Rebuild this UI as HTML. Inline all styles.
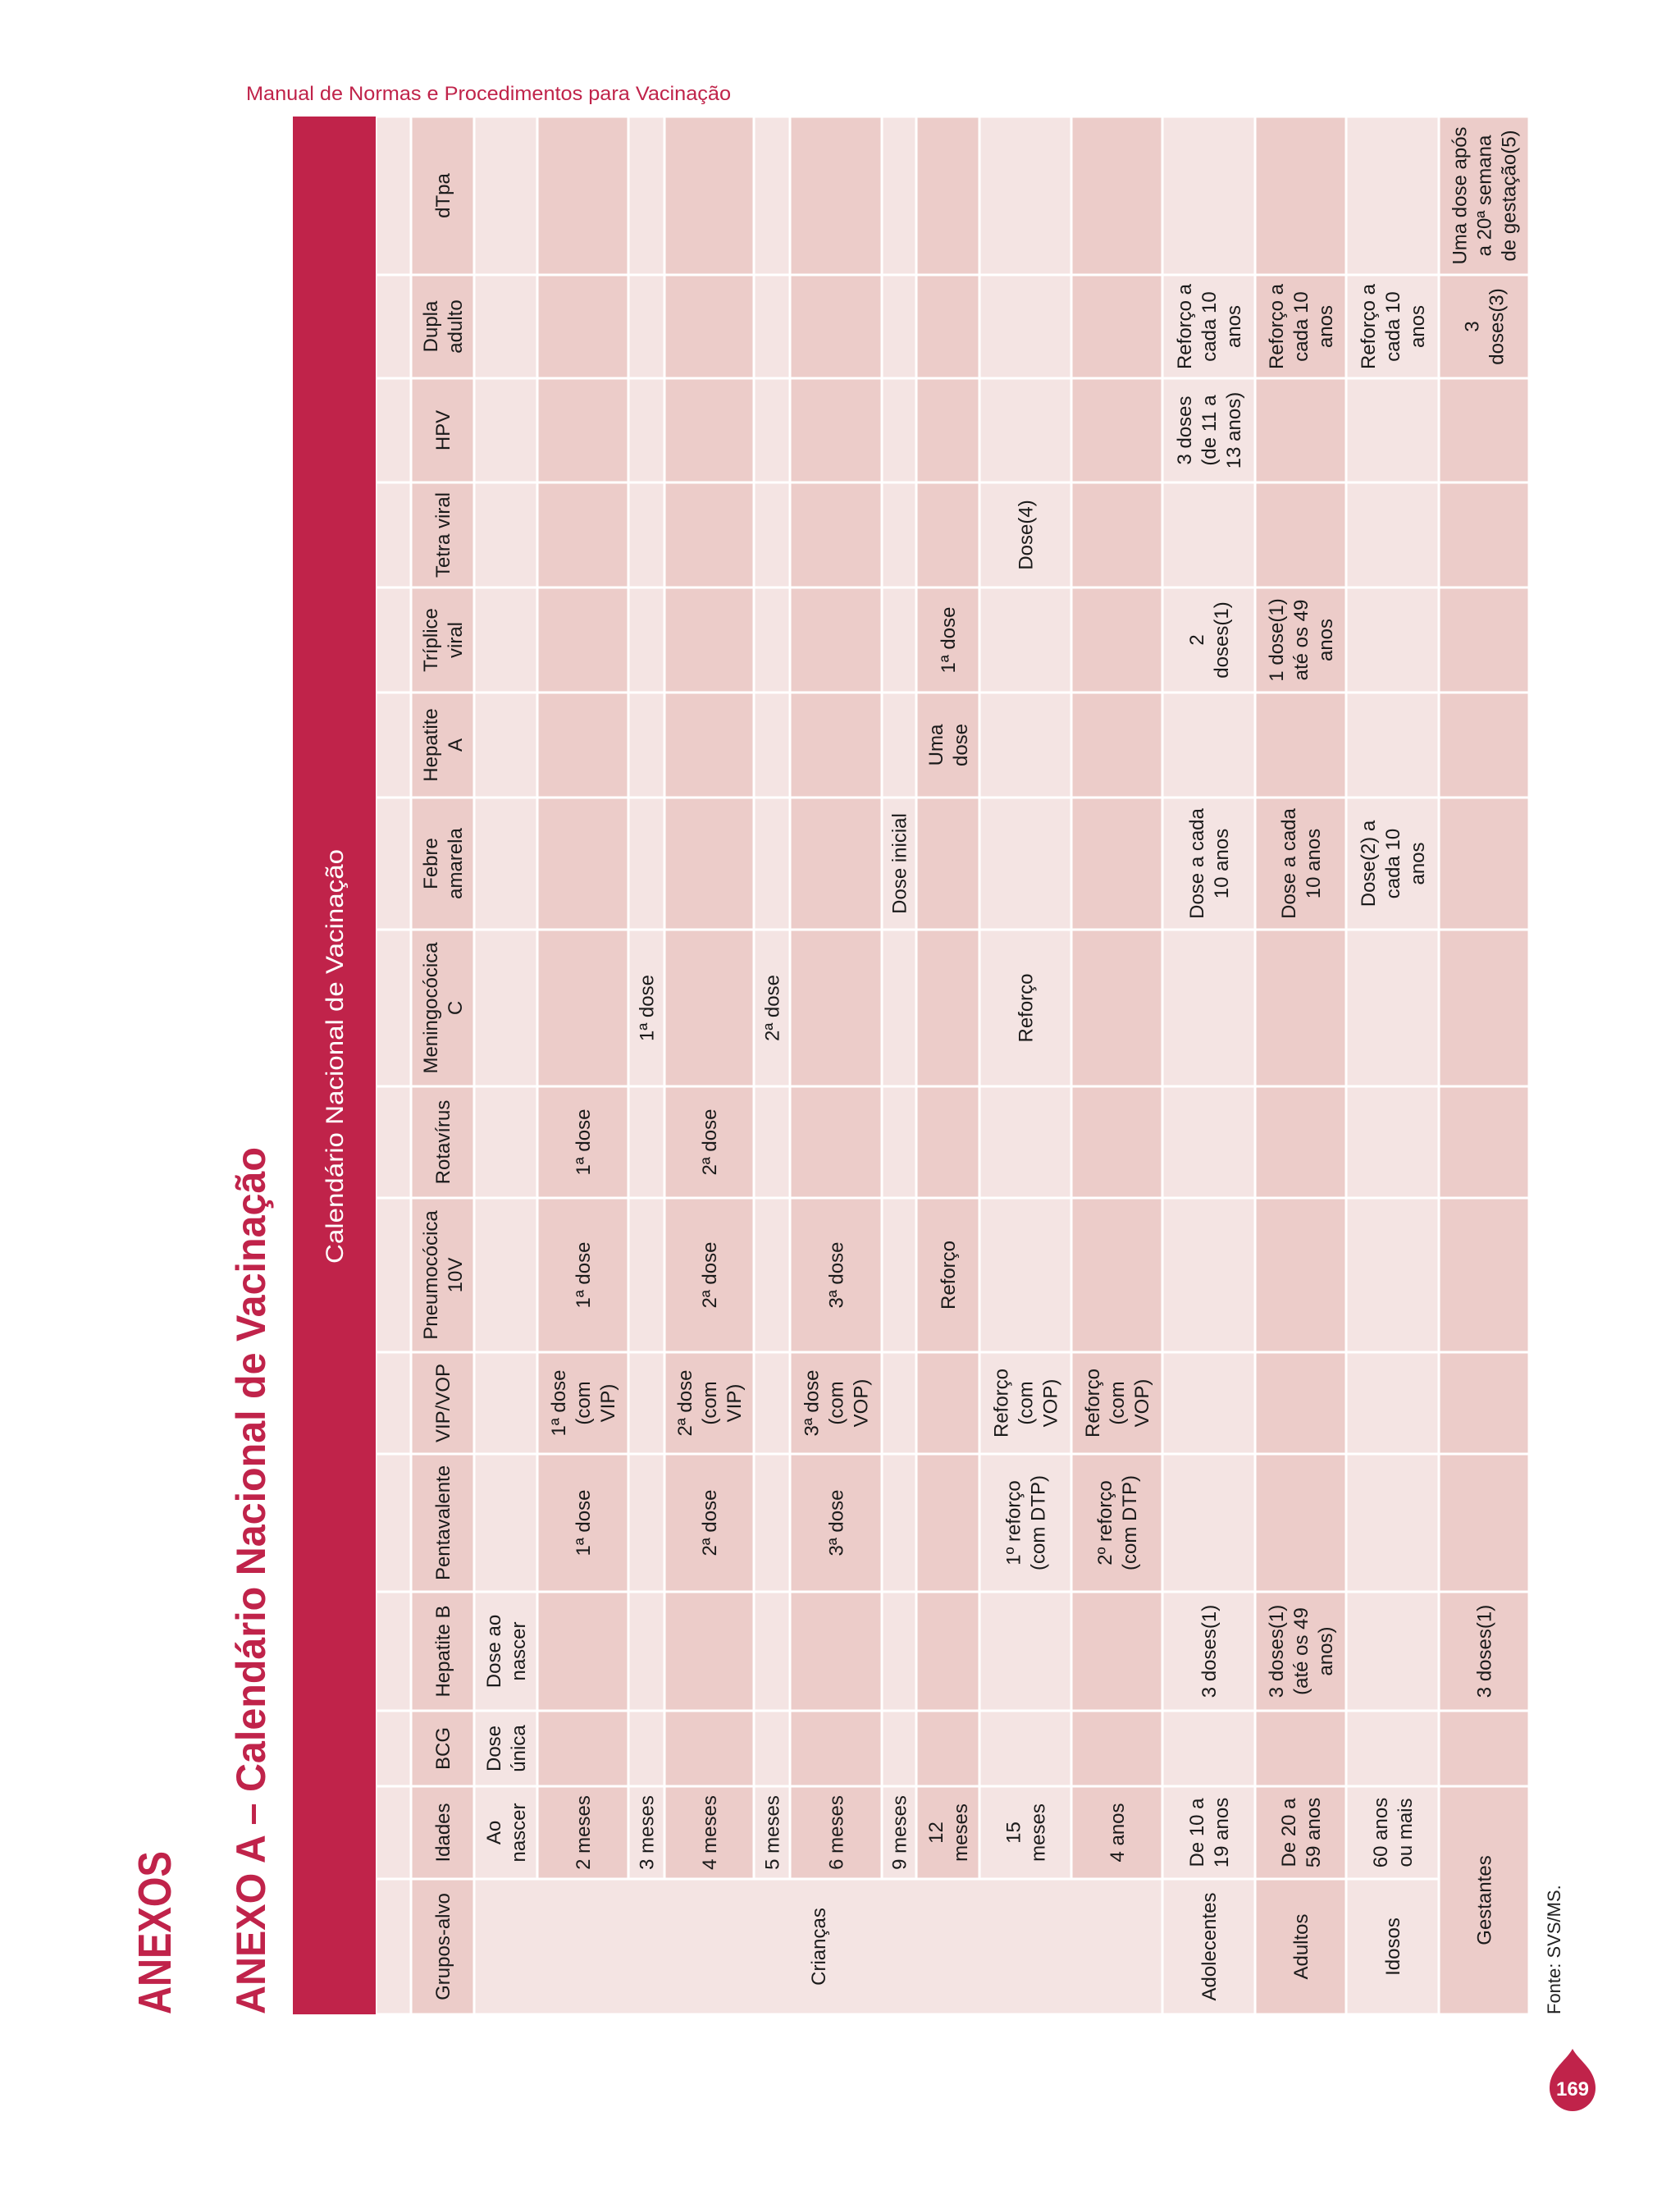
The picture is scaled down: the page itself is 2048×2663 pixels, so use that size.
<!DOCTYPE html>
<html><head><meta charset="utf-8">
<style>
html,body{margin:0;padding:0;background:#fff;}
svg{display:block;}
text{font-family:"Liberation Sans Narrow","Liberation Sans",sans-serif;}
</style></head>
<body>
<svg id="page" xmlns="http://www.w3.org/2000/svg" width="2048" height="2663" viewBox="0 0 2048 2663">
  <rect x="0" y="0" width="2048" height="2663" fill="#ffffff"/>
  <text x="300" y="122" font-size="24" fill="#c0234a" textLength="591" lengthAdjust="spacingAndGlyphs" style="font-family:'Liberation Sans',sans-serif">Manual de Normas e Procedimentos para Vacinação</text>
  <text transform="translate(208,2455) rotate(-90)" font-size="57" font-weight="bold" fill="#c0234a" textLength="199" lengthAdjust="spacingAndGlyphs">ANEXOS</text>
  <text transform="translate(323,2455) rotate(-90)" font-size="50" font-weight="bold" fill="#c0234a" textLength="1057" lengthAdjust="spacingAndGlyphs">ANEXO A – Calendário Nacional de Vacinação</text>
  <rect x="357" y="142" width="101" height="2313" fill="#c0234a"/>
  <text transform="translate(418,1540) rotate(-90)" font-size="30" fill="#ffffff" textLength="505" lengthAdjust="spacingAndGlyphs">Calendário Nacional de Vacinação</text>
  <g id="grid"></g>
  <text transform="translate(1902,2455) rotate(-90)" font-size="22" fill="#222" style="font-family:'Liberation Sans',sans-serif">Fonte: SVS/MS.</text>
  <g>
    <path d="M1917,2497 C1925,2512 1945,2522 1945,2545 A28,28 0 1 1 1889,2545 C1889,2522 1909,2512 1917,2497 Z" fill="#c0234a"/>
    <text x="1917" y="2554" font-size="24" font-weight="bold" fill="#fff" text-anchor="middle" style="font-family:'Liberation Sans',sans-serif">169</text>
  </g>
</svg>
<script>
// column (vaccine) boundaries along page y, from bottom to top
const colEdges = [2455, 2290, 2177, 2085, 1940, 1772, 1648, 1460, 1324, 1133, 972, 844, 716, 588, 461, 335, 142];
// row boundaries along page x: blank strip, header, then 14 data rows
const rowEdges = [458, 501, 578, 655, 766, 810, 919, 963, 1075, 1117, 1194, 1306, 1417, 1530, 1641, 1754, 1864];
const headers = ["Grupos-alvo","Idades","BCG","Hepatite B","Pentavalente","VIP/VOP","Pneumocócica|10V","Rotavírus","Meningocócica|C","Febre|amarela","Hepatite|A","Tríplice|viral","Tetra viral","HPV","Dupla|adulto","dTpa"];
const E = "";
const rows = [
  [E,"Ao|nascer","Dose|única","Dose ao|nascer",E,E,E,E,E,E,E,E,E,E,E,E],
  [E,"2 meses",E,E,"1ª dose","1ª dose|(com|VIP)","1ª dose","1ª dose",E,E,E,E,E,E,E,E],
  [E,"3 meses",E,E,E,E,E,E,"1ª dose",E,E,E,E,E,E,E],
  [E,"4 meses",E,E,"2ª dose","2ª dose|(com|VIP)","2ª dose","2ª dose",E,E,E,E,E,E,E,E],
  [E,"5 meses",E,E,E,E,E,E,"2ª dose",E,E,E,E,E,E,E],
  [E,"6 meses",E,E,"3ª dose","3ª dose|(com|VOP)","3ª dose",E,E,E,E,E,E,E,E,E],
  [E,"9 meses",E,E,E,E,E,E,E,"Dose inicial",E,E,E,E,E,E],
  [E,"12|meses",E,E,E,E,"Reforço",E,E,E,"Uma|dose","1ª dose",E,E,E,E],
  [E,"15|meses",E,E,"1º reforço|(com DTP)","Reforço|(com|VOP)",E,E,"Reforço",E,E,E,"Dose(4)",E,E,E],
  [E,"4 anos",E,E,"2º reforço|(com DTP)","Reforço|(com|VOP)",E,E,E,E,E,E,E,E,E,E],
  ["Adolecentes","De 10 a|19 anos",E,"3 doses(1)",E,E,E,E,E,"Dose a cada|10 anos",E,"2|doses(1)",E,"3 doses|(de 11 a|13 anos)","Reforço a|cada 10|anos",E],
  ["Adultos","De 20 a|59 anos",E,"3 doses(1)|(até os 49|anos)",E,E,E,E,E,"Dose a cada|10 anos",E,"1 dose(1)|até os 49|anos",E,E,"Reforço a|cada 10|anos",E],
  ["Idosos","60 anos|ou mais",E,E,E,E,E,E,E,"Dose(2) a|cada 10|anos",E,E,E,E,"Reforço a|cada 10|anos",E],
  ["Gestantes",E,E,"3 doses(1)",E,E,E,E,E,E,E,E,E,E,"3|doses(3)","Uma dose após|a 20ª semana|de gestação(5)"]
];
const LIGHT = "#f4e4e3", MED = "#ecccc9";
const NS = "http://www.w3.org/2000/svg";
const grid = document.getElementById('grid');
const FS = 24, LH = 30;

function rowX(i){ return rowEdges[i]; }
function colY(j){ return colEdges[j]; }

function cell(r0, r1, c0, c1, fill, label, name){
  const x0 = rowX(r0), x1 = rowX(r1);
  const yb = colY(c0), yt = colY(c1);
  const rect = document.createElementNS(NS,'rect');
  rect.setAttribute('x', x0 + 1.5);
  rect.setAttribute('y', yt + 1.5);
  rect.setAttribute('width', x1 - x0 - 3);
  rect.setAttribute('height', yb - yt - 3);
  rect.setAttribute('fill', fill);
  
  
  grid.appendChild(rect);
  if (label) {
    const lines = label.split('|');
    const cx = (x0 + x1) / 2, cy = (yb + yt) / 2;
    const t = document.createElementNS(NS,'text');
    t.setAttribute('transform', 'translate(' + cx + ',' + cy + ') rotate(-90)');
    t.setAttribute('font-size', FS);
    t.setAttribute('fill', '#1a1a1a');
    t.setAttribute('text-anchor', 'middle');
    
    
    lines.forEach((ln, k) => {
      const sp = document.createElementNS(NS,'tspan');
      sp.setAttribute('x', 0);
      const y = (k - (lines.length - 1) / 2) * LH + FS * 0.35;
      sp.setAttribute('y', y);
      sp.textContent = ln;
      t.appendChild(sp);
    });
    grid.appendChild(t);
  }
}

// blank strip row
for (let c = 0; c < 16; c++) cell(0, 1, c, c + 1, LIGHT, "", "blank-strip-cell");
// header row
for (let c = 0; c < 16; c++) cell(1, 2, c, c + 1, MED, headers[c], "header-cell");
// data rows
rows.forEach((row, i) => {
  const r = i + 2;
  const fill = (i % 2 === 0) ? LIGHT : MED;
  // group column
  if (i === 0) cell(2, 12, 0, 1, LIGHT, "Crianças", "group-cell");
  else if (i >= 10 && i < 13) cell(r, r + 1, 0, 1, fill, row[0], "group-cell");
  // age column / gestantes merged
  if (i === 13) cell(r, r + 1, 0, 2, fill, row[0], "group-cell");
  else cell(r, r + 1, 1, 2, fill, row[1], "age-cell");
  for (let c = 2; c < 16; c++) cell(r, r + 1, c, c + 1, fill, row[c], "dose-cell");
});
</script>
</body></html>
